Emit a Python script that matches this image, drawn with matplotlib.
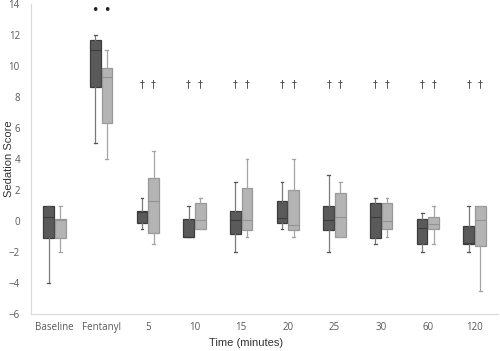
"""
Sedation score box plots over time, two groups side by side
"""

import matplotlib
matplotlib.use("Agg")
import matplotlib.pyplot as plt

# categories on the x axis
categories = ["Baseline", "Fentanyl", "5", "10", "15", "20", "25", "30", "60", "120"]

# box stats
dark_whislo = [-4.0, 5.0, -0.5, -1.0, -2.0, -0.5, -2.0, -1.5, -2.0, -2.0]
dark_q1 = [-1.1, 8.65, -0.1, -1.0, -0.85, -0.1, -0.6, -1.1, -1.45, -1.45]
dark_med = [0.25, 11.0, 0.6, -1.0, 0.05, 0.2, 0.05, 0.25, -0.45, -1.4]
dark_q3 = [1.0, 11.65, 0.65, 0.15, 0.65, 1.3, 1.0, 1.15, 0.15, -0.35]
dark_whishi = [1.0, 12.0, 1.5, 1.0, 2.5, 2.5, 3.0, 1.5, 0.5, 1.0]

light_whislo = [-2.0, 4.0, -1.5, -0.5, -1.0, -1.0, -1.0, -1.0, -1.5, -4.5]
light_q1 = [-1.1, 6.3, -0.75, -0.5, -0.6, -0.6, -1.0, -0.5, -0.5, -1.6]
light_med = [0.1, 9.3, 1.3, 0.05, 0.05, -0.25, 0.25, 0.0, -0.2, 0.05]
light_q3 = [0.15, 9.85, 2.8, 1.15, 2.1, 2.0, 1.8, 1.15, 0.25, 1.0]
light_whishi = [1.0, 11.0, 4.5, 1.5, 4.0, 4.0, 2.5, 1.5, 1.0, 1.0]

# significance markers
star_y = 13.6
dagger_y = 8.8
star_cats = ["Fentanyl"]
dagger_cats = ["5", "10", "15", "20", "25", "30", "60", "120"]

DARK = "#5a5a5a"
LIGHT = "#b4b4b4"
TEXT = "#595959"

plt.rcParams["font.family"] = ["Open Sans", "DejaVu Sans"]

fig = plt.figure(figsize=(5, 3.51), dpi=100)
ax = fig.add_axes([0.062, 0.105, 0.934, 0.884])

OFF = 0.125
W = 0.23


def make_stats(lo, q1, med, q3, hi):
    out = []
    for i in range(len(lo)):
        out.append(dict(whislo=lo[i], q1=q1[i], med=med[i], q3=q3[i], whishi=hi[i], fliers=[]))
    return out


x = list(range(len(categories)))

ax.bxp(make_stats(dark_whislo, dark_q1, dark_med, dark_q3, dark_whishi),
       positions=[i - OFF for i in x], widths=W, patch_artist=True, showfliers=False,
       boxprops=dict(facecolor=DARK, edgecolor="#3c3c3c", linewidth=0.9),
       medianprops=dict(color="#3c3c3c", linewidth=0.8),
       whiskerprops=dict(color="#7a7a7a", linewidth=0.9),
       capprops=dict(color="#555555", linewidth=0.9),
       capwidths=0.06)

ax.bxp(make_stats(light_whislo, light_q1, light_med, light_q3, light_whishi),
       positions=[i + OFF for i in x], widths=W, patch_artist=True, showfliers=False,
       boxprops=dict(facecolor=LIGHT, edgecolor="#989898", linewidth=0.9),
       medianprops=dict(color="#929292", linewidth=0.8),
       whiskerprops=dict(color="#a5a5a5", linewidth=0.9),
       capprops=dict(color="#a5a5a5", linewidth=0.9),
       capwidths=0.06)

for c in star_cats:
    i = categories.index(c)
    for dx in (-OFF, OFF):
        ax.text(i + dx, star_y, "\u2022", ha="center", va="center", fontsize=9, color="#222222",
                family="DejaVu Sans")
for c in dagger_cats:
    i = categories.index(c)
    for dx in (-OFF, OFF):
        ax.text(i + dx, dagger_y, "\u2020", ha="center", va="center", fontsize=7, color="#444444",
                family="DejaVu Sans")

ax.set_xlim(-0.5, len(categories) - 0.5)
ax.set_ylim(-6, 14)
ax.set_yticks(range(-6, 15, 2))
ax.set_xticks(x)
ax.set_xticklabels(categories)
ax.tick_params(length=0, labelsize=7, colors=TEXT, pad=6)
ax.tick_params(axis="y", pad=8)

for s in ("top", "right"):
    ax.spines[s].set_visible(False)
for s in ("left", "bottom"):
    ax.spines[s].set_color("#d9d9d9")
    ax.spines[s].set_linewidth(0.8)

ax.set_ylabel("Sedation Score", fontsize=8, color="#333333",
              family=["Liberation Sans", "DejaVu Sans"])
ax.set_xlabel("Time (minutes)", fontsize=8, color="#333333",
              family=["Liberation Sans", "DejaVu Sans"])
ax.yaxis.label.set_va("center")
ax.xaxis.label.set_va("center")
ax.yaxis.set_label_coords(-0.048, 0.5)
ax.xaxis.set_label_coords(0.46, -0.094)

fig.savefig("out.png", dpi=100)
